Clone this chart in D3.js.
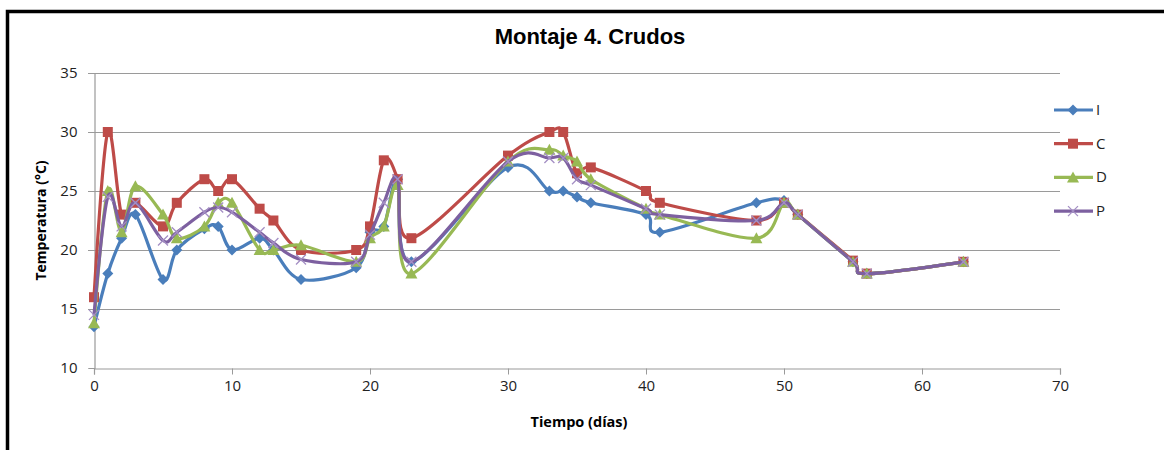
<!DOCTYPE html>
<html>
<head>
<meta charset="utf-8">
<script src="https://d3js.org/d3.v7.min.js"></script>
<style>
  body { margin: 0; background: #fff; }
</style>
</head>
<body>
<div id="chart"></div>
<script>
// days sampled
var dias = [0, 1, 2, 3, 5, 6, 8, 9, 10, 12, 13, 15, 19, 20, 21, 22, 23, 30, 33, 34, 35, 36, 40, 41, 48, 50, 51, 55, 56, 63];
var serieI = [13.5, 18, 21, 23, 17.5, 20, 21.8, 22, 20, 21, 20, 17.5, 18.5, 21.5, 22, 26, 19, 27, 25, 25, 24.5, 24, 23, 21.5, 24, 24.2, 23, 19, 18, 19];
var serieC = [16, 30, 23, 24, 22, 24, 26, 25, 26, 23.5, 22.5, 20, 20, 22, 27.6, 26, 21, 28, 30, 30, 26.5, 27, 25, 24, 22.5, 24, 23, 19.1, 18, 19];
var serieD = [13.8, 25, 21.5, 25.4, 23, 21, 22, 24, 24, 20, 20, 20.4, 19, 21, 22, 25.5, 18, 27.5, 28.5, 28, 27.5, 26, 23.5, 23, 21, 24, 23, 19, 18, 19];
var serieP = [14.5, 24.5, 22, 24, 20.8, 21.5, 23.2, 23.6, 23.2, 21.5, 20.6, 19.2, 19, 21.3, 24, 26, 19, 27.5, 27.8, 27.8, 26, 25.5, 23.5, 23, 22.5, 24, 23, 19, 18, 19];
var nombres = ["I", "C", "D", "P"];
var colores = ["#4a7ebb", "#be4b48", "#98b954", "#7d60a0"];
var simbolos = ["diamond", "square", "triangle", "x"];
var xTicks = [0, 10, 20, 30, 40, 50, 60, 70];
var yTicks = [10, 15, 20, 25, 30, 35];

var width = 1164, height = 450;
var m = {left: 94, right: 104, top: 73, bottom: 82};
var fuente = "'Open Sans', sans-serif";

var svg = d3.select("#chart").append("svg")
    .attr("width", width)
    .attr("height", height)
    .style("font-family", fuente);

svg.append("rect").attr("width", width).attr("height", height).attr("fill", "#fff");

// frame
svg.append("path")
    .attr("d", "M7.5," + height + "V11.5H" + width)
    .attr("fill", "none")
    .attr("stroke", "#000")
    .attr("stroke-width", 3.5);

var x = d3.scaleLinear().domain([0, 70]).range([m.left, width - m.right]);
var y = d3.scaleLinear().domain([10, 35]).range([height - m.bottom, m.top]);

// grid
svg.append("g").selectAll("line")
    .data(yTicks.slice(1))
    .enter().append("line")
    .attr("x1", x(0) - 6).attr("x2", x(70))
    .attr("y1", function(d) { return Math.round(y(d)) + 0.5; })
    .attr("y2", function(d) { return Math.round(y(d)) + 0.5; })
    .attr("stroke", "#9a9a9a").attr("stroke-width", 1.2);

var xAxis = svg.append("g")
    .attr("transform", "translate(0," + (Math.round(y(10)) + 0.5) + ")")
    .call(d3.axisBottom(x).tickValues(xTicks).tickSize(6).tickPadding(6));
var yAxis = svg.append("g")
    .attr("transform", "translate(" + (x(0) + 0.5) + ",0)")
    .call(d3.axisLeft(y).tickValues(yTicks).tickSize(6).tickPadding(11));

[xAxis, yAxis].forEach(function(a) {
  a.attr("font-family", fuente).attr("font-size", 15);
  a.select(".domain").attr("stroke", "#9a9a9a").attr("stroke-width", 1.2);
  a.selectAll(".tick line").attr("stroke", "#9a9a9a");
  a.selectAll("text").attr("fill", "#222");
});

// title and axis labels
svg.append("text")
    .attr("x", 590).attr("y", 44)
    .attr("text-anchor", "middle")
    .style("font-family", "'Liberation Sans', Arial, sans-serif")
    .attr("font-size", 22).attr("font-weight", "bold")
    .text("Montaje 4. Crudos");
svg.append("text")
    .attr("x", 579).attr("y", 427)
    .attr("text-anchor", "middle")
    .attr("font-size", 14.5).attr("font-weight", "bold")
    .text("Tiempo (días)");
svg.append("text")
    .attr("transform", "translate(46," + y(22.5) + ") rotate(-90)")
    .attr("text-anchor", "middle")
    .attr("font-size", 14).attr("font-weight", "bold")
    .text("Temperatura (°C)");

var datos = [serieI, serieC, serieD, serieP];

var line = d3.line()
    .x(function(d) { return x(d.x); })
    .y(function(d) { return y(d.y); })
    .curve(d3.curveCardinal.tension(0));

function marcador(g, tipo, color) {
  if (tipo === "diamond") {
    g.append("path").attr("d", "M0,-5.5L5.5,0L0,5.5L-5.5,0Z").attr("fill", color);
  } else if (tipo === "square") {
    g.append("rect").attr("x", -5).attr("y", -5).attr("width", 10).attr("height", 10).attr("fill", color);
  } else if (tipo === "triangle") {
    g.append("path").attr("d", "M0,-6L6,5L-6,5Z").attr("fill", color);
  } else {
    g.append("path").attr("d", "M-5,-5L5,5M-5,5L5,-5")
      .attr("stroke", "#a48fc4").attr("stroke-width", 1.3).attr("fill", "none");
  }
}

datos.forEach(function(serie, i) {
  var pts = dias.map(function(d, j) { return {x: d, y: serie[j]}; });
  var g = svg.append("g");
  g.append("path")
    .attr("d", line(pts))
    .attr("fill", "none")
    .attr("stroke", colores[i])
    .attr("stroke-width", 3.2)
    .attr("stroke-linejoin", "round");
  g.selectAll("g.m")
    .data(pts)
    .enter().append("g")
    .attr("transform", function(d) { return "translate(" + x(d.x) + "," + y(d.y) + ")"; })
    .each(function() { marcador(d3.select(this), simbolos[i], colores[i]); });
});

// legend
var legend = svg.append("g");
nombres.forEach(function(n, i) {
  var ly = 110 + i * 33.7;
  legend.append("line")
    .attr("x1", 1054).attr("x2", 1093).attr("y1", ly).attr("y2", ly)
    .attr("stroke", colores[i]).attr("stroke-width", 3.2);
  var mg = legend.append("g").attr("transform", "translate(1073," + ly + ")");
  marcador(mg, simbolos[i], colores[i]);
  legend.append("text")
    .attr("x", 1096).attr("y", ly + 5)
    .attr("font-size", 15).attr("fill", "#222")
    .text(n);
});
</script>
</body>
</html>
